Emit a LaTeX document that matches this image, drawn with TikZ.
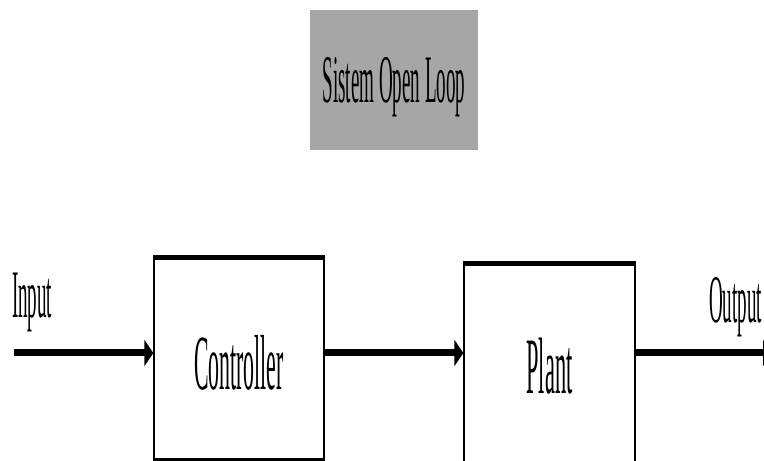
\documentclass[tikz,border=0pt]{standalone}
\usepackage{fontspec}
\setmainfont{Liberation Serif}
\usetikzlibrary{arrows.meta}

\tikzstyle{block}=[draw,line width=1.2pt,fill=white,inner sep=0pt,font=\fontsize{78}{80}\selectfont]
\tikzstyle{rim} = [draw,line width=5pt,-]
\tikzstyle{signal} = [draw,line width=7pt,-{Triangle[length=9pt,width=26pt]}]
\tikzstyle{tag} = [inner sep=0pt,font=\fontsize{68}{70}\selectfont]
\newcommand{\txtscale}{0.28}

\begin{document}
\begin{tikzpicture}[x=1pt, y=1pt]
    \useasboundingbox (0,0) rectangle (764,461);
    \clip (0,0) rectangle (764,461);
    % Title box
    \node[fill=black!35, minimum width=168pt, minimum height=140pt] (title) at (394,381) {};
    \node[tag, xscale=\txtscale, anchor=base] (titletxt) at (394,358) {Sistem Open Loop};
    % First we draw the blocks
    \foreach \pos/\name/\w/\h in {{(239,102)/ctrl/170/201}, {(549.5,90)/plant/171/213}}
        \node[block, minimum width=\w pt, minimum height=\h pt] (\name) at \pos {};
    \node[font=\fontsize{78}{80}\selectfont, inner sep=0pt, xscale=\txtscale] (ctrltxt) at (239,98.5) {Controller};
    \node[font=\fontsize{80}{82}\selectfont, inner sep=0pt, xscale=\txtscale] (planttxt) at (549.5,94.5) {Plant};
    % Thick rims on top and bottom
    \foreach \name in {ctrl, plant} {
        \path[rim] (\name.north west) -- (\name.north east);
        \path[rim] (\name.south west) -- (\name.south east);
    }
    % Signals
    \coordinate (in) at (14,108);
    \coordinate (out) at (772,108);
    \path[signal] (in) -- (in -| ctrl.west);
    \path[signal] (ctrl.east |- in) -- (in -| plant.west);
    \path[signal] (plant.east |- in) -- (out);
    \node[tag, xscale=\txtscale, anchor=base west] (intxt) at (12,143) {Input};
    \node[tag, xscale=\txtscale, anchor=base west] (outtxt) at (709,138) {Output};
\end{tikzpicture}
\end{document}
